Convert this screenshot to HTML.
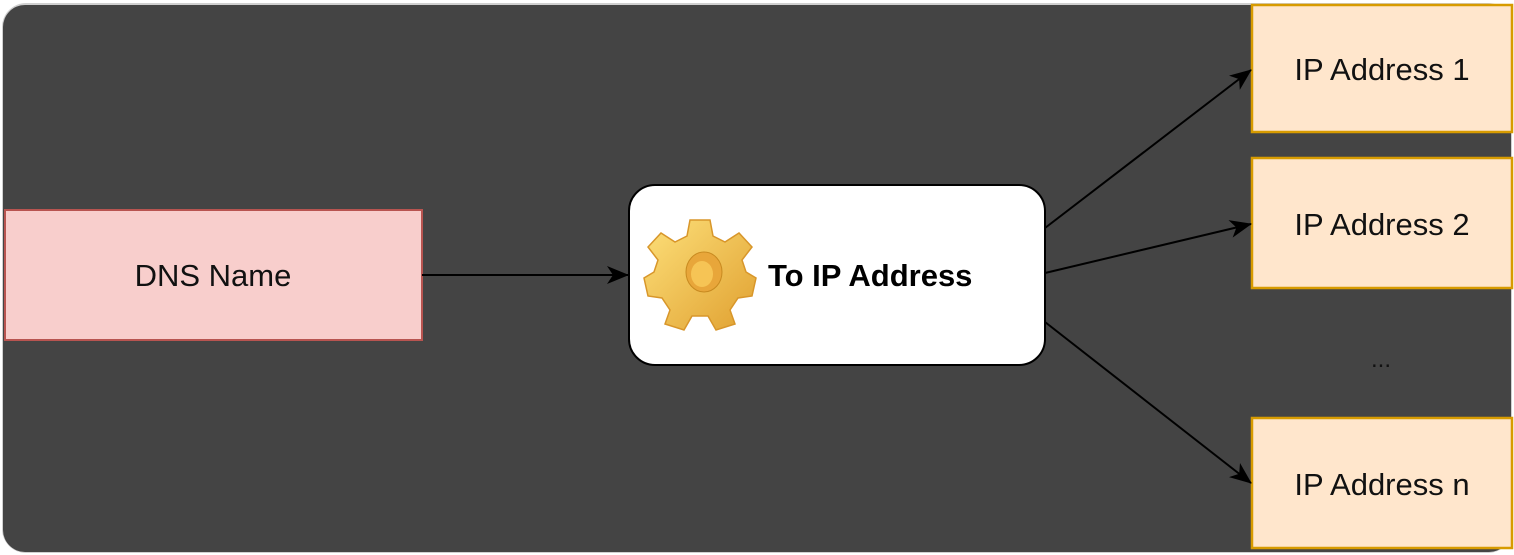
<!DOCTYPE html>
<html><head><meta charset="utf-8"><style>
html,body{margin:0;padding:0;background:#fff;width:1514px;height:555px;overflow:hidden}
svg{display:block}
text{font-family:"Liberation Sans",Arial,sans-serif}
</style></head><body>
<svg width="1514" height="555" viewBox="0 0 1514 555">
<defs>
<marker id="a" viewBox="0 0 22 18" refX="21" refY="9" markerWidth="22" markerHeight="18" markerUnits="userSpaceOnUse" orient="auto">
<path d="M0,0 L22,9 L0,18 L6,9 Z" fill="#000"/>
</marker>
<linearGradient id="g" x1="0" y1="0" x2="1" y2="1">
<stop offset="0" stop-color="#fde07a"/><stop offset="1" stop-color="#e0a030"/>
</linearGradient>
</defs>
<rect x="0" y="0" width="1514" height="555" fill="#fff"/>
<rect x="2" y="3" width="1510" height="550" rx="24" fill="#d0d0d0"/>
<rect x="3" y="5" width="1508" height="547" rx="22" fill="#444"/>
<rect x="5" y="210" width="417" height="130" fill="#f8cecc" stroke="#b85450" stroke-width="2"/>
<text x="213" y="286" font-size="31" text-anchor="middle" fill="#111">DNS Name</text>
<rect x="629" y="185" width="416" height="180" rx="26" fill="#fff" stroke="#000" stroke-width="2"/>
<g transform="translate(700,272)">
<path fill="url(#g)" stroke="#d8962a" stroke-width="1.5" d="M-10,-52 L10,-52 L13,-36 L25,-30 L39,-39 L52,-25 L42,-12 L46,0 L56,6 L52,24 L38,26 L30,38 L35,52 L16,58 L8,44 L-8,44 L-16,58 L-35,52 L-30,38 L-38,26 L-52,24 L-56,6 L-46,0 L-42,-12 L-52,-25 L-39,-39 L-25,-30 L-13,-36 Z"/>
<ellipse cx="4" cy="0" rx="18" ry="20" fill="#e8a63a" stroke="#c88a20"/>
<ellipse cx="2" cy="2" rx="11" ry="13" fill="#f6c455"/>
</g>
<text x="768" y="286" font-size="31" font-weight="bold" fill="#000">To IP Address</text>
<rect x="1252" y="5" width="260" height="127" fill="#ffe6cc" stroke="#d79b00" stroke-width="2.5"/>
<text x="1382" y="80" font-size="31" text-anchor="middle" fill="#111">IP Address 1</text>
<rect x="1252" y="158" width="260" height="130" fill="#ffe6cc" stroke="#d79b00" stroke-width="2.5"/>
<text x="1382" y="235" font-size="31" text-anchor="middle" fill="#111">IP Address 2</text>
<text x="1381" y="367" font-size="24" text-anchor="middle" fill="#111">...</text>
<rect x="1252" y="418" width="260" height="130" fill="#ffe6cc" stroke="#d79b00" stroke-width="2.5"/>
<text x="1382" y="495" font-size="31" text-anchor="middle" fill="#111">IP Address n</text>
<g stroke="#000" stroke-width="2" fill="none">
<line x1="422" y1="275" x2="628" y2="275" marker-end="url(#a)"/>
<line x1="1045" y1="228" x2="1251" y2="70" marker-end="url(#a)"/>
<line x1="1045" y1="273" x2="1251" y2="224" marker-end="url(#a)"/>
<line x1="1045" y1="322" x2="1251" y2="483" marker-end="url(#a)"/>
</g>
</svg>
</body></html>
